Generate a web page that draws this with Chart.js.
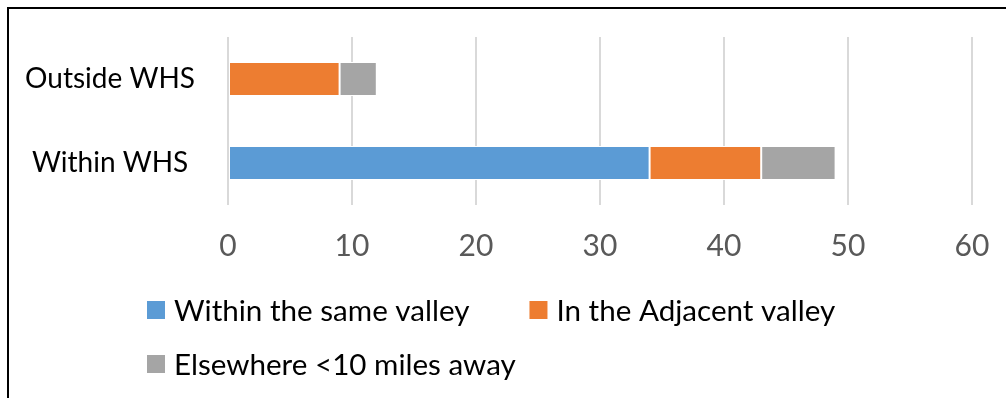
<!DOCTYPE html>
<html><head><meta charset="utf-8">
<script src="https://cdn.jsdelivr.net/npm/chart.js@4/dist/chart.umd.min.js"></script>
<style>
html,body{margin:0;padding:0;background:#fff;width:1006px;height:398px;overflow:hidden}
#frame{position:absolute;left:7px;top:7px;right:0;bottom:0;border-top:2px solid #000;border-left:2px solid #000}
canvas{position:absolute;left:0;top:0}
</style></head><body>
<div id="frame"></div>
<canvas id="c" width="1006" height="398"></canvas>
<script>
// Journeys by origin: stacked counts per location group
const categories = ['Outside WHS', 'Within WHS'];
const sameValley = [0, 34];
const adjacentValley = [9, 9];
const elsewhere = [3, 6];
const seriesNames = ['Within the same valley', 'In the Adjacent valley', 'Elsewhere <10 miles away'];
const seriesColors = ['#5B9BD5', '#ED7D31', '#A5A5A5'];
const xTicks = [0, 10, 20, 30, 40, 50, 60];

const FONT = 'Lato';

// Legend laid out in two left-aligned rows under the axis
const legendRows = [[0, 1], [2]];
const bottomLegend = {
  id: 'bottomLegend',
  afterDraw(chart) {
    const ctx = chart.ctx;
    ctx.save();
    ctx.font = '29.6px ' + FONT;
    ctx.textBaseline = 'middle';
    ctx.textAlign = 'left';
    const rowY = [310, 364];
    legendRows.forEach((row, r) => {
      let x = 147;
      row.forEach(i => {
        ctx.fillStyle = seriesColors[i];
        ctx.fillRect(x, rowY[r] - 9, 18, 18);
        ctx.fillStyle = '#000';
        ctx.fillText(seriesNames[i], x + 27, rowY[r] + 1);
        x += 27 + ctx.measureText(seriesNames[i]).width + 60;
      });
    });
    ctx.restore();
  }
};

const seriesData = [sameValley, adjacentValley, elsewhere];

new Chart(document.getElementById('c'), {
  type: 'bar',
  data: {
    labels: categories,
    datasets: seriesData.map((d, i) => ({
      label: seriesNames[i],
      data: d,
      backgroundColor: seriesColors[i],
      borderColor: '#ffffff',
      borderWidth: 1,
      borderSkipped: false,
      categoryPercentage: 0.405,
      barPercentage: 1
    }))
  },
  options: {
    indexAxis: 'y',
    responsive: false,
    animation: false,
    devicePixelRatio: 1,
    layout: { padding: { top: 37, right: 34, left: 0, bottom: 0 } },
    plugins: { legend: { display: false }, tooltip: { enabled: false } },
    scales: {
      x: {
        stacked: true,
        min: xTicks[0],
        max: xTicks[xTicks.length - 1],
        afterBuildTicks(scale) { scale.ticks = xTicks.map(v => ({ value: v })); },
        ticks: { color: '#595959', font: { family: FONT, size: 30 }, padding: 23, maxRotation: 0 },
        grid: { color: '#d9d9d9', lineWidth: 2, drawTicks: false },
        border: { display: false },
        afterFit(scale) {
          scale.height = 193;
          scale.paddingLeft = 0;
          scale.paddingRight = 0;
        }
      },
      y: {
        stacked: true,
        ticks: { color: '#000', font: { family: FONT, size: 28 }, crossAlign: 'center', padding: 25 },
        grid: { display: false },
        border: { display: false },
        afterFit(scale) {
          scale.width = 228;
          scale.paddingTop = 0;
          scale.paddingBottom = 0;
        }
      }
    }
  },
  plugins: [bottomLegend]
});
</script>
</body></html>
